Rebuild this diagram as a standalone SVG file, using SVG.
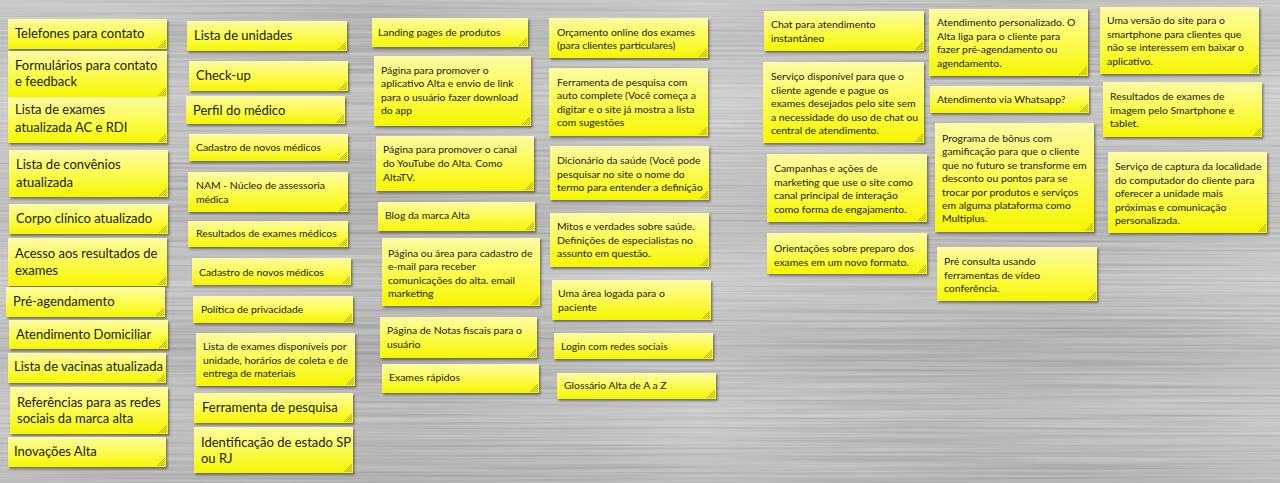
<svg xmlns="http://www.w3.org/2000/svg" xmlns:xlink="http://www.w3.org/1999/xlink" width="1280" height="483" viewBox="0 0 1280 483">
<defs>
<linearGradient id="metal" x1="0" y1="0" x2="0" y2="1">
<stop offset="0" stop-color="#cbcbcb"/>
<stop offset="0.08" stop-color="#bdbdbd"/>
<stop offset="0.2" stop-color="#d3d3d3"/>
<stop offset="0.33" stop-color="#c4c4c4"/>
<stop offset="0.45" stop-color="#b9b9b9"/>
<stop offset="0.58" stop-color="#cfcfcf"/>
<stop offset="0.72" stop-color="#b6b6b6"/>
<stop offset="0.86" stop-color="#c9c9c9"/>
<stop offset="1" stop-color="#b8b8b8"/>
</linearGradient>
<linearGradient id="metalH" x1="0" y1="0" x2="1" y2="0">
<stop offset="0" stop-color="#fff" stop-opacity="0.05"/>
<stop offset="0.3" stop-color="#000" stop-opacity="0.05"/>
<stop offset="0.55" stop-color="#fff" stop-opacity="0.08"/>
<stop offset="0.8" stop-color="#000" stop-opacity="0.04"/>
<stop offset="1" stop-color="#fff" stop-opacity="0.06"/>
</linearGradient>
<filter id="brush" x="0" y="0" width="100%" height="100%">
<feTurbulence type="fractalNoise" baseFrequency="0.004 0.4" numOctaves="2" seed="7"/>
<feColorMatrix type="matrix" values="1 0 0 0 0  1 0 0 0 0  1 0 0 0 0  0 0 0 0 0.3"/>
</filter>
<linearGradient id="noteGrad" x1="0" y1="0" x2="0" y2="1">
<stop offset="0" stop-color="#fbfba4"/>
<stop offset="0.45" stop-color="#fcfc5a"/>
<stop offset="1" stop-color="#f6f600"/>
</linearGradient>
<filter id="shadow" x="-10%" y="-10%" width="125%" height="140%">
<feDropShadow dx="1.5" dy="2" stdDeviation="1.2" flood-color="#2a2a2a" flood-opacity="0.55"/>
</filter>
<g id="hatch">
<path d="M-9 -1 L-1 -9 M-7 -1 L-1 -7 M-5 -1 L-1 -5 M-3 -1 L-1 -3" stroke="#8f8f2a" stroke-width="0.7" fill="none"/>
</g>
<style>
.note rect.bg { fill: url(#noteGrad); filter: url(#shadow); }
.note text { font-family: Lato, "Liberation Sans", sans-serif; fill: #1a1a1a; }
.big text { font-size: 13px; }
.small text { font-size: 10.4px; }
</style>
</defs>

<rect x="0" y="0" width="1280" height="483" fill="url(#metal)"/>
<rect x="0" y="0" width="1280" height="483" filter="url(#brush)"/>
<rect x="0" y="0" width="1280" height="483" fill="url(#metalH)"/>

<g id="connectors"/>

<!-- Column 1 -->
<g id="n1" class="note big" transform="translate(8,19)"><rect class="bg" width="159" height="30"/><use href="#hatch" x="159" y="30"/><text x="7" y="19">Telefones para contato</text></g>
<g id="n2" class="note big" transform="translate(8,51)"><rect class="bg" width="159" height="46"/><use href="#hatch" x="159" y="46"/><text x="7" y="19">Formulários para contato<tspan x="7" dy="16">e feedback</tspan></text></g>
<g id="n3" class="note big" transform="translate(8,97)"><rect class="bg" width="159" height="46"/><use href="#hatch" x="159" y="46"/><text x="7" y="17">Lista de exames<tspan x="7" dy="18">atualizada AC e RDI</tspan></text></g>
<g id="n4" class="note big" transform="translate(9,150)"><rect class="bg" width="159" height="47"/><use href="#hatch" x="159" y="47"/><text x="7" y="19">Lista de convênios<tspan x="7" dy="18">atualizada</tspan></text></g>
<g id="n5" class="note big" transform="translate(9,204)"><rect class="bg" width="159" height="30"/><use href="#hatch" x="159" y="30"/><text x="7" y="19">Corpo clínico atualizado</text></g>
<g id="n6" class="note big" transform="translate(8,238)"><rect class="bg" width="159" height="48"/><use href="#hatch" x="159" y="48"/><text x="7" y="20">Acesso aos resultados de<tspan x="7" dy="17">exames</tspan></text></g>
<g id="n7" class="note big" transform="translate(6,287)"><rect class="bg" width="159" height="30"/><use href="#hatch" x="159" y="30"/><text x="7" y="19">Pré-agendamento</text></g>
<g id="n8" class="note big" transform="translate(9,320)"><rect class="bg" width="159" height="29"/><use href="#hatch" x="159" y="29"/><text x="7" y="19">Atendimento Domiciliar</text></g>
<g id="n9" class="note big" transform="translate(8,353)"><rect class="bg" width="158" height="30"/><use href="#hatch" x="158" y="30"/><text x="6" y="18">Lista de vacinas atualizada</text></g>
<g id="n10" class="note big" transform="translate(10,387)"><rect class="bg" width="158" height="47"/><use href="#hatch" x="158" y="47"/><text x="7" y="20">Referências para as redes<tspan x="7" dy="16">sociais da marca alta</tspan></text></g>
<g id="n11" class="note big" transform="translate(8,437)"><rect class="bg" width="158" height="30"/><use href="#hatch" x="158" y="30"/><text x="6" y="19">Inovações Alta</text></g>

<!-- Column 2 -->
<g id="c2n1" class="note big" transform="translate(187,21)"><rect class="bg" width="160" height="30"/><use href="#hatch" x="160" y="30"/><text x="7" y="19">Lista de unidades</text></g>
<g id="c2n2" class="note big" transform="translate(189,61)"><rect class="bg" width="159" height="30"/><use href="#hatch" x="159" y="30"/><text x="7" y="19">Check-up</text></g>
<g id="c2n3" class="note big" transform="translate(186,96)"><rect class="bg" width="159" height="28"/><use href="#hatch" x="159" y="28"/><text x="7" y="19">Perfil do médico</text></g>
<g id="c2n4" class="note small" transform="translate(189,134)"><rect class="bg" width="159" height="27"/><use href="#hatch" x="159" y="27"/><text x="7" y="17">Cadastro de novos médicos</text></g>
<g id="c2n5" class="note small" transform="translate(188,172)"><rect class="bg" width="160" height="40"/><use href="#hatch" x="160" y="40"/><text x="8" y="17">NAM - Núcleo de assessoria<tspan x="8" dy="14">médica</tspan></text></g>
<g id="c2n6" class="note small" transform="translate(188,221)"><rect class="bg" width="160" height="26"/><use href="#hatch" x="160" y="26"/><text x="8" y="16">Resultados de exames médicos</text></g>
<g id="c2n7" class="note small" transform="translate(192,258)"><rect class="bg" width="159" height="27"/><use href="#hatch" x="159" y="27"/><text x="7" y="18">Cadastro de novos médicos</text></g>
<g id="c2n8" class="note small" transform="translate(193,296)"><rect class="bg" width="160" height="27"/><use href="#hatch" x="160" y="27"/><text x="8" y="17">Política de privacidade</text></g>
<g id="c2n9" class="note small" transform="translate(196,333)"><rect class="bg" width="159" height="53"/><use href="#hatch" x="159" y="53"/><text x="7" y="17">Lista de exames disponíveis por<tspan x="7" dy="13.5">unidade, horários de coleta e de</tspan><tspan x="7" dy="13.5">entrega de materiais</tspan></text></g>
<g id="c2n10" class="note big" transform="translate(194,393)"><rect class="bg" width="159" height="30"/><use href="#hatch" x="159" y="30"/><text x="8" y="19">Ferramenta de pesquisa</text></g>
<g id="c2n11" class="note big" transform="translate(194,427)"><rect class="bg" width="159" height="46"/><use href="#hatch" x="159" y="46"/><text x="7" y="20">Identificação de estado SP<tspan x="7" dy="16">ou RJ</tspan></text></g>

<!-- Column 3 -->
<g id="c3n1" class="note small" transform="translate(372,18)"><rect class="bg" width="156" height="29"/><use href="#hatch" x="156" y="29"/><text x="6" y="18">Landing pages de produtos</text></g>
<g id="c3n2" class="note small" transform="translate(374,56)"><rect class="bg" width="157" height="70"/><use href="#hatch" x="157" y="70"/><text x="7" y="18">Página para promover o<tspan x="7" dy="13.3">aplicativo Alta e envio de link</tspan><tspan x="7" dy="13.3">para o usuário fazer download</tspan><tspan x="7" dy="13.3">do app</tspan></text></g>
<g id="c3n3" class="note small" transform="translate(376,136)"><rect class="bg" width="158" height="55"/><use href="#hatch" x="158" y="55"/><text x="7" y="17">Página para promover o canal<tspan x="7" dy="14">do YouTube do Alta. Como</tspan><tspan x="7" dy="14">AltaTV.</tspan></text></g>
<g id="c3n4" class="note small" transform="translate(378,202)"><rect class="bg" width="157" height="29"/><use href="#hatch" x="157" y="29"/><text x="7" y="17">Blog da marca Alta</text></g>
<g id="c3n5" class="note small" transform="translate(382,238)"><rect class="bg" width="158" height="68"/><use href="#hatch" x="158" y="68"/><text x="6" y="19">Página ou área para cadastro de<tspan x="6" dy="13.3">e-mail para receber</tspan><tspan x="6" dy="13.3">comunicações do alta. email</tspan><tspan x="6" dy="13.3">marketing</tspan></text></g>
<g id="c3n6" class="note small" transform="translate(380,317)"><rect class="bg" width="157" height="41"/><use href="#hatch" x="157" y="41"/><text x="7" y="17">Página de Notas fiscais para o<tspan x="7" dy="14">usuário</tspan></text></g>
<g id="c3n7" class="note small" transform="translate(382,364)"><rect class="bg" width="157" height="29"/><use href="#hatch" x="157" y="29"/><text x="7" y="17">Exames rápidos</text></g>

<!-- Column 4 -->
<g id="c4n1" class="note small" transform="translate(549,18)"><rect class="bg" width="159" height="40"/><use href="#hatch" x="159" y="40"/><text x="8" y="18">Orçamento online dos exames<tspan x="8" dy="13">(para clientes particulares)</tspan></text></g>
<g id="c4n2" class="note small" transform="translate(549,68)"><rect class="bg" width="159" height="68"/><use href="#hatch" x="159" y="68"/><text x="8" y="18">Ferramenta de pesquisa com<tspan x="8" dy="13.3">auto complete (Você começa a</tspan><tspan x="8" dy="13.3">digitar e o site já mostra a lista</tspan><tspan x="8" dy="13.3">com sugestões</tspan></text></g>
<g id="c4n3" class="note small" transform="translate(550,146)"><rect class="bg" width="159" height="54"/><use href="#hatch" x="159" y="54"/><text x="7" y="18">Dicionário da saúde (Você pode<tspan x="7" dy="13.5">pesquisar no site o nome do</tspan><tspan x="7" dy="13.5">termo para entender a definição</tspan></text></g>
<g id="c4n4" class="note small" transform="translate(550,213)"><rect class="bg" width="159" height="54"/><use href="#hatch" x="159" y="54"/><text x="7" y="17">Mitos e verdades sobre saúde.<tspan x="7" dy="13.5">Definições de especialistas no</tspan><tspan x="7" dy="13.5">assunto em questão.</tspan></text></g>
<g id="c4n5" class="note small" transform="translate(552,280)"><rect class="bg" width="159" height="40"/><use href="#hatch" x="159" y="40"/><text x="6" y="17">Uma área logada para o<tspan x="6" dy="14">paciente</tspan></text></g>
<g id="c4n6" class="note small" transform="translate(554,333)"><rect class="bg" width="159" height="26"/><use href="#hatch" x="159" y="26"/><text x="7" y="17">Login com redes sociais</text></g>
<g id="c4n7" class="note small" transform="translate(557,373)"><rect class="bg" width="159" height="26"/><use href="#hatch" x="159" y="26"/><text x="7" y="16">Glossário Alta de A a Z</text></g>

<!-- Column 5 -->
<g id="c5n1" class="note small" transform="translate(764,11)"><rect class="bg" width="160" height="40"/><use href="#hatch" x="160" y="40"/><text x="7" y="17">Chat para atendimento<tspan x="7" dy="14">instantâneo</tspan></text></g>
<g id="c5n2" class="note small" transform="translate(763,62)"><rect class="bg" width="161" height="81"/><use href="#hatch" x="161" y="81"/><text x="8" y="18">Serviço disponível para que o<tspan x="8" dy="13.5">cliente agende e pague os</tspan><tspan x="8" dy="13.5">exames desejados pelo site sem</tspan><tspan x="8" dy="13.5">a necessidade do uso de chat ou</tspan><tspan x="8" dy="13.5">central de atendimento.</tspan></text></g>
<g id="c5n3" class="note small" transform="translate(767,154)"><rect class="bg" width="160" height="68"/><use href="#hatch" x="160" y="68"/><text x="7" y="18">Campanhas e ações de<tspan x="7" dy="13.5">marketing que use o site como</tspan><tspan x="7" dy="13.5">canal principal de interação</tspan><tspan x="7" dy="13.5">como forma de engajamento.</tspan></text></g>
<g id="c5n4" class="note small" transform="translate(767,233)"><rect class="bg" width="160" height="41"/><use href="#hatch" x="160" y="41"/><text x="7" y="19">Orientações sobre preparo dos<tspan x="7" dy="13.5">exames em um novo formato.</tspan></text></g>

<!-- Column 6 -->
<g id="c6n1" class="note small" transform="translate(929,9)"><rect class="bg" width="159" height="67"/><use href="#hatch" x="159" y="67"/><text x="8" y="17">Atendimento personalizado. O<tspan x="8" dy="13.5">Alta liga para o cliente para</tspan><tspan x="8" dy="13.5">fazer pré-agendamento ou</tspan><tspan x="8" dy="13.5">agendamento.</tspan></text></g>
<g id="c6n2" class="note small" transform="translate(930,86)"><rect class="bg" width="159" height="27"/><use href="#hatch" x="159" y="27"/><text x="7" y="17">Atendimento via Whatsapp?</text></g>
<g id="c6n3" class="note small" transform="translate(935,123)"><rect class="bg" width="159" height="109"/><use href="#hatch" x="159" y="109"/><text x="7" y="19">Programa de bônus com<tspan x="7" dy="13.4">gamificação para que o cliente</tspan><tspan x="7" dy="13.4">que no futuro se transforme em</tspan><tspan x="7" dy="13.4">desconto ou pontos para se</tspan><tspan x="7" dy="13.4">trocar por produtos e serviços</tspan><tspan x="7" dy="13.4">em alguma plataforma como</tspan><tspan x="7" dy="13.4">Multiplus.</tspan></text></g>
<g id="c6n4" class="note small" transform="translate(937,247)"><rect class="bg" width="160" height="54"/><use href="#hatch" x="160" y="54"/><text x="7" y="18">Pré consulta usando<tspan x="7" dy="13.5">ferramentas de vídeo</tspan><tspan x="7" dy="13.5">conferência.</tspan></text></g>

<!-- Column 7 -->
<g id="c7n1" class="note small" transform="translate(1100,7)"><rect class="bg" width="159" height="67"/><use href="#hatch" x="159" y="67"/><text x="7" y="17">Uma versão do site para o<tspan x="7" dy="13.5">smartphone para clientes que</tspan><tspan x="7" dy="13.5">não se interessem em baixar o</tspan><tspan x="7" dy="13.5">aplicativo.</tspan></text></g>
<g id="c7n2" class="note small" transform="translate(1103,82)"><rect class="bg" width="159" height="55"/><use href="#hatch" x="159" y="55"/><text x="7" y="18">Resultados de exames de<tspan x="7" dy="13.5">imagem pelo Smartphone e</tspan><tspan x="7" dy="13.5">tablet.</tspan></text></g>
<g id="c7n3" class="note small" transform="translate(1108,152)"><rect class="bg" width="159" height="81"/><use href="#hatch" x="159" y="81"/><text x="7" y="18">Serviço de captura da localidade<tspan x="7" dy="13.5">do computador do cliente para</tspan><tspan x="7" dy="13.5">oferecer a unidade mais</tspan><tspan x="7" dy="13.5">próximas e comunicação</tspan><tspan x="7" dy="13.5">personalizada.</tspan></text></g>
</svg>
